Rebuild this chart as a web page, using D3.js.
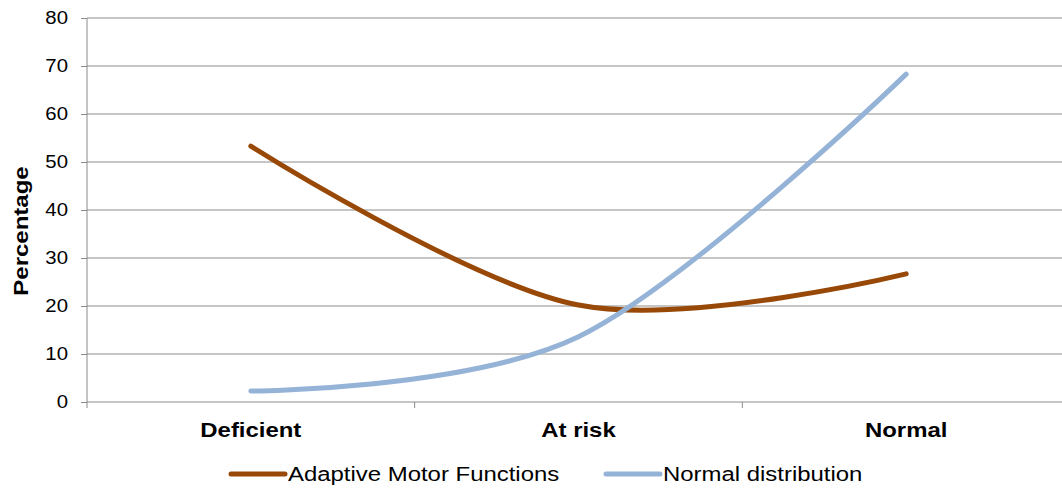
<!DOCTYPE html>
<html>
<head>
<meta charset="utf-8">
<script src="https://cdn.jsdelivr.net/npm/d3@7"></script>
<style>
  body { margin: 0; background: #fff; }
  svg { font-family: "Liberation Sans", Arial, sans-serif; }
</style>
</head>
<body>
<div id="chart"></div>
<script>
// data
const categories = ["Deficient", "At risk", "Normal"];
const motor = [53.3, 20.2, 26.7];
const normalDist = [2.3, 13.6, 68.3];
const yTicks = [0, 10, 20, 30, 40, 50, 60, 70, 80];
const seriesNames = ["Adaptive Motor Functions", "Normal distribution"];

const width = 1062;
const height = 491;
const margin = {top: 18, right: -8, bottom: 89, left: 87};
const w = width - margin.left - margin.right;
const h = height - margin.top - margin.bottom;
const stretch = 1.14; // the original text is wider than Liberation Sans

const svg = d3.select("#chart")
    .append("svg")
    .attr("width", width)
    .attr("height", height);

const g = svg.append("g")
    .attr("transform", "translate(" + margin.left + "," + margin.top + ")");

let x = d3.scaleBand().domain(categories).range([0, w]);
let y = d3.scaleLinear().domain([0, 80]).range([h, 0]);

// gridlines
g.selectAll(".grid")
    .data(yTicks.slice(1))
    .enter().append("line")
    .attr("x1", 0)
    .attr("x2", w)
    .attr("y1", d => y(d))
    .attr("y2", d => y(d))
    .attr("stroke", "#8c8c8c")
    .attr("stroke-width", 1);

// y axis
const yAxis = g.append("g")
    .call(d3.axisLeft(y).tickValues(yTicks).tickSize(6).tickPadding(0));
yAxis.select(".domain").attr("stroke", "#8c8c8c").attr("d", "M0," + (h + 6) + "V0");
yAxis.selectAll(".tick line").attr("stroke", "#8c8c8c");
yAxis.selectAll(".tick text")
    .attr("x", 0)
    .attr("transform", "translate(-19,0) scale(1.1,1)")
    .attr("font-size", 18.5)
    .attr("fill", "#000")
    .attr("font-family", "Liberation Sans, Arial, sans-serif");

// x axis
const xAxis = g.append("g")
    .attr("transform", "translate(0," + h + ")")
    .call(d3.axisBottom(x).tickSize(0).tickPadding(20));
xAxis.select(".domain").attr("stroke", "#8c8c8c").attr("d", "M0,0H" + w);
xAxis.selectAll(".tick text")
    .attr("transform", "scale(" + stretch + ",1)")
    .attr("font-size", 21)
    .attr("font-weight", "bold")
    .attr("fill", "#000")
    .attr("font-family", "Liberation Sans, Arial, sans-serif");
// category separators
g.selectAll(".sep")
    .data(categories.slice(1))
    .enter().append("line")
    .attr("x1", d => x(d))
    .attr("x2", d => x(d))
    .attr("y1", h)
    .attr("y2", h + 6)
    .attr("stroke", "#8c8c8c");

// y title
svg.append("text")
    .attr("transform", "translate(28,231) rotate(-90) scale(1.2,1)")
    .attr("text-anchor", "middle")
    .attr("font-size", 20)
    .attr("font-weight", "bold")
    .text("Percentage");

const line = d3.line()
    .x((d, i) => x(categories[i]) + x.bandwidth() / 2)
    .y(d => y(d))
    .curve(d3.curveCatmullRom.alpha(0));

const colors = ["#984807", "#95b3d7"];
[motor, normalDist].forEach(function (s, i) {
    g.append("path")
        .datum(s)
        .attr("fill", "none")
        .attr("stroke", colors[i])
        .attr("stroke-width", 5)
        .attr("stroke-linecap", "round")
        .attr("d", line);
});

// legend
const legendX = [231, 606];
seriesNames.forEach(function (name, i) {
    const lg = svg.append("g").attr("transform", "translate(" + legendX[i] + ",474)");
    lg.append("line")
        .attr("x1", 0).attr("x2", 54)
        .attr("stroke", colors[i])
        .attr("stroke-width", 5)
        .attr("stroke-linecap", "round");
    lg.append("text")
        .attr("transform", "translate(57,7) scale(" + stretch + ",1)")
        .attr("font-size", 21)
        .text(name);
});
</script>
</body>
</html>
